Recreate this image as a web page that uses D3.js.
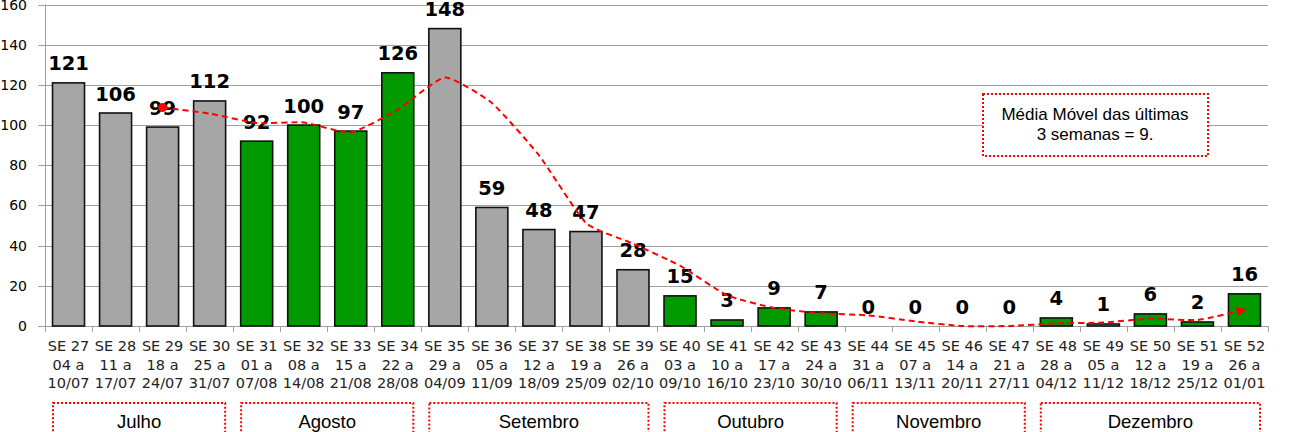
<!DOCTYPE html>
<html>
<head>
<meta charset="utf-8">
<script src="https://cdn.jsdelivr.net/npm/d3@7"></script>
<style>
  body { margin: 0; background: #fff; }
  svg { display: block; }
</style>
</head>
<body>
<svg width="1293" height="432"></svg>
<script>
const weeks = ["SE 27", "SE 28", "SE 29", "SE 30", "SE 31", "SE 32", "SE 33", "SE 34", "SE 35",
  "SE 36", "SE 37", "SE 38", "SE 39", "SE 40", "SE 41", "SE 42", "SE 43", "SE 44", "SE 45",
  "SE 46", "SE 47", "SE 48", "SE 49", "SE 50", "SE 51", "SE 52"];
const weekStart = ["04 a", "11 a", "18 a", "25 a", "01 a", "08 a", "15 a", "22 a", "29 a",
  "05 a", "12 a", "19 a", "26 a", "03 a", "10 a", "17 a", "24 a", "31 a", "07 a",
  "14 a", "21 a", "28 a", "05 a", "12 a", "19 a", "26 a"];
const weekEnd = ["10/07", "17/07", "24/07", "31/07", "07/08", "14/08", "21/08", "28/08", "04/09",
  "11/09", "18/09", "25/09", "02/10", "09/10", "16/10", "23/10", "30/10", "06/11", "13/11",
  "20/11", "27/11", "04/12", "11/12", "18/12", "25/12", "01/01"];
const cases = [121, 106, 99, 112, 92, 100, 97, 126, 148, 59, 48, 47, 28, 15, 3, 9, 7, 0, 0, 0, 0, 4, 1, 6, 2, 16];
const barKind = ["cinza", "cinza", "cinza", "cinza", "verde", "verde", "verde", "verde", "cinza",
  "cinza", "cinza", "cinza", "cinza", "verde", "verde", "verde", "verde", "verde", "verde",
  "verde", "verde", "verde", "cinza", "verde", "verde", "verde"];
const movingAvg = [null, null, 108.7, 105.7, 101, 101.3, 96.3, 107.7, 123.7, 111, 85, 51.3, 41,
  30, 15.3, 9, 6.3, 5.3, 2.3, 0, 0, 1.3, 1.7, 3.7, 3, 8];
const yTicks = [0, 20, 40, 60, 80, 100, 120, 140, 160];
const monthNames = ["Julho", "Agosto", "Setembro", "Outubro", "Novembro", "Dezembro"];
const monthFirst = ["SE 27", "SE 31", "SE 35", "SE 40", "SE 44", "SE 48"];
const monthLast = ["SE 30", "SE 34", "SE 39", "SE 43", "SE 47", "SE 52"];
const legendLines = ["Média Móvel das últimas", "3 semanas = 9."];

const fill = { cinza: "#a6a6a6", verde: "#009900" };
const svg = d3.select("svg");
const plotLeft = 45, plotRight = 1268, plotTop = 4.5, plotBottom = 326;

const x = d3.scaleBand().domain(weeks).range([plotLeft, plotRight]).paddingInner(0.32).paddingOuter(0.16);
const y = d3.scaleLinear().domain([0, 160]).range([plotBottom, plotTop]);

// grid
svg.append("g")
  .selectAll("line")
  .data(yTicks)
  .enter()
  .append("line")
  .attr("x1", plotLeft - 7)
  .attr("x2", plotRight)
  .attr("y1", (d) => Math.round(y(d)) + 0.5)
  .attr("y2", (d) => Math.round(y(d)) + 0.5)
  .attr("stroke", "#a0a0a0");

svg.append("g")
  .selectAll("text")
  .data(yTicks)
  .enter()
  .append("text")
  .attr("x", 27)
  .attr("y", (d) => y(d) + 5)
  .attr("text-anchor", "end")
  .attr("font-family", "DejaVu Sans")
  .attr("font-size", 14)
  .attr("fill", "#000")
  .text((d) => d);

svg.append("line")
  .attr("x1", plotLeft + 0.5).attr("x2", plotLeft + 0.5)
  .attr("y1", plotTop).attr("y2", plotBottom)
  .attr("stroke", "#a0a0a0");

// x axis ticks between categories
const step = x.step();
svg.append("g")
  .selectAll("line")
  .data(d3.range(weeks.length + 1))
  .enter()
  .append("line")
  .attr("x1", (i) => Math.round(plotLeft + i * step) + 0.5)
  .attr("x2", (i) => Math.round(plotLeft + i * step) + 0.5)
  .attr("y1", plotBottom)
  .attr("y2", plotBottom + 6)
  .attr("stroke", "#a0a0a0");

// bars
svg.append("g")
  .selectAll("rect")
  .data(cases)
  .enter()
  .append("rect")
  .attr("x", (d, i) => x(weeks[i]))
  .attr("y", (d) => y(d))
  .attr("width", x.bandwidth())
  .attr("height", (d) => plotBottom - y(d))
  .attr("fill", (d, i) => fill[barKind[i]])
  .attr("stroke", (d) => (d > 0 ? "#111" : "none"))
  .attr("stroke-width", 1.6);

// data labels
svg.append("g")
  .selectAll("text")
  .data(cases)
  .enter()
  .append("text")
  .attr("x", (d, i) => x(weeks[i]) + x.bandwidth() / 2)
  .attr("y", (d) => y(d) - 12.5)
  .attr("text-anchor", "middle")
  .attr("font-family", "DejaVu Sans")
  .attr("font-weight", "bold")
  .attr("font-size", 19.5)
  .text((d) => d);

// moving average
const avgPoints = movingAvg
  .map((v, i) => ({ w: weeks[i], v: v }))
  .filter((d) => d.v !== null);

svg.append("defs")
  .append("marker")
  .attr("id", "arrow")
  .attr("viewBox", "0 0 10 10")
  .attr("refX", 8)
  .attr("refY", 5)
  .attr("markerWidth", 5)
  .attr("markerHeight", 5)
  .attr("orient", "auto")
  .attr("markerUnits", "strokeWidth")
  .append("path")
  .attr("d", "M0,0L10,5L0,10Z")
  .attr("fill", "#ff0000");

const line = d3.line()
  .x((d) => x(d.w) + x.bandwidth() / 2)
  .y((d) => y(d.v))
  .curve(d3.curveCardinal.tension(0.5));

svg.append("path")
  .datum(avgPoints)
  .attr("d", line)
  .attr("fill", "none")
  .attr("stroke", "#ff0000")
  .attr("stroke-width", 2)
  .attr("stroke-dasharray", "6,4")
  .attr("marker-end", "url(#arrow)");

svg.append("circle")
  .attr("cx", x(avgPoints[0].w) + x.bandwidth() / 2)
  .attr("cy", y(avgPoints[0].v))
  .attr("r", 4.5)
  .attr("fill", "#ff0000");

// week labels
const labels = svg.append("g")
  .selectAll("text")
  .data(weeks)
  .enter()
  .append("text")
  .attr("text-anchor", "middle")
  .attr("font-family", "DejaVu Sans")
  .attr("font-size", 14.5)
  .attr("fill", "#222");

[weeks, weekStart, weekEnd].forEach((row, r) => {
  labels.append("tspan")
    .attr("x", (d) => x(d) + x.bandwidth() / 2)
    .attr("y", 351 + r * 18.5)
    .text((d, i) => row[i]);
});

// month boxes
const monthG = svg.append("g")
  .selectAll("g")
  .data(monthNames)
  .enter()
  .append("g");

monthG.append("rect")
  .attr("x", (d, i) => plotLeft + weeks.indexOf(monthFirst[i]) * step + 8)
  .attr("y", 403)
  .attr("width", (d, i) => (weeks.indexOf(monthLast[i]) - weeks.indexOf(monthFirst[i]) + 1) * step - 16)
  .attr("height", 60)
  .attr("fill", "none")
  .attr("stroke", "#ff0000")
  .attr("stroke-width", 2)
  .attr("stroke-dasharray", "2,2");

monthG.append("text")
  .attr("x", (d, i) => plotLeft + (weeks.indexOf(monthFirst[i]) + weeks.indexOf(monthLast[i]) + 1) * step / 2)
  .attr("y", 428)
  .attr("text-anchor", "middle")
  .attr("font-family", "Liberation Sans")
  .attr("font-size", 18.5)
  .text((d) => d);

// legend note
const note = svg.append("g");
note.append("rect")
  .attr("x", 983)
  .attr("y", 94)
  .attr("width", 225)
  .attr("height", 62)
  .attr("fill", "#fff")
  .attr("stroke", "#ff0000")
  .attr("stroke-width", 2)
  .attr("stroke-dasharray", "2,2");

note.selectAll("text")
  .data(legendLines)
  .enter()
  .append("text")
  .attr("x", 1095)
  .attr("y", (d, i) => 120 + i * 20)
  .attr("text-anchor", "middle")
  .attr("font-family", "Liberation Sans")
  .attr("font-size", 17)
  .text((d) => d);
</script>
</body>
</html>
